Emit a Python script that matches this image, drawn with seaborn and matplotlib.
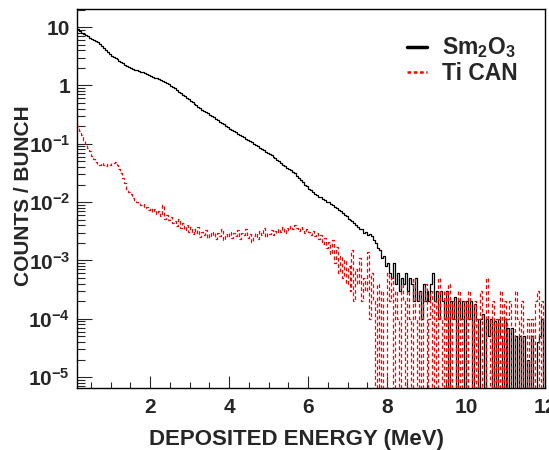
import matplotlib
matplotlib.use("Agg")
import matplotlib.pyplot as plt
import matplotlib.ticker as mticker
import numpy as np
import pandas as pd
import seaborn as sns
import warnings
warnings.filterwarnings("ignore")

# histogram binning (MeV)
bin_start = 0.10
bin_width = 0.05

# counts per bunch, one value per 0.05 MeV bin
sm2o3_counts = [
    10.5, 9.2, 8.4, 7.9, 7.5, 7.2, 6.9, 6.6, 6.3, 6.0,
    5.8, 5.5, 5.1, 4.7, 4.3, 4.0, 3.7, 3.45, 3.25, 3.1,
    2.95, 2.8, 2.65, 2.5, 2.38, 2.25, 2.15, 2.05, 1.98, 1.92,
    1.87, 1.82, 1.77, 1.72, 1.67, 1.62, 1.57, 1.52, 1.47, 1.42,
    1.36, 1.32, 1.28, 1.24, 1.19, 1.14, 1.09, 1.04, 0.99, 0.94,
    0.89, 0.84, 0.78, 0.73, 0.69, 0.65, 0.61, 0.575, 0.54, 0.51,
    0.48, 0.455, 0.43, 0.405, 0.385, 0.365, 0.345, 0.33, 0.315, 0.30,
    0.285, 0.27, 0.255, 0.24, 0.228, 0.215, 0.203, 0.192, 0.182, 0.172,
    0.164, 0.156, 0.148, 0.141, 0.134, 0.128, 0.122, 0.116, 0.110, 0.105,
    0.100, 0.095, 0.090, 0.086, 0.081, 0.077, 0.073, 0.070, 0.066, 0.063,
    0.060, 0.057, 0.053, 0.050, 0.047, 0.044, 0.041, 0.039, 0.037, 0.035,
    0.033, 0.031, 0.028, 0.026, 0.024, 0.022, 0.020, 0.019, 0.017, 0.016,
    0.0150, 0.0138, 0.0134, 0.0124, 0.0121, 0.0112, 0.0110, 0.0102, 0.0101, 0.0094,
    0.0090, 0.0083, 0.0080, 0.0072, 0.0069, 0.0064, 0.0059, 0.0057, 0.0051, 0.0049,
    0.0048, 0.0044, 0.0041, 0.0038, 0.0034, 0.0035, 0.0030, 0.0031, 0.0027, 0.0028,
    0.0026, 0.0022, 0.0020, 0.0016, 0.0015, 0.0011, 0.0012, 0.0008, 0.0009, 0.0006,
    0.0005, 0.0009, 0.0004, 0.0006, 0.0003, 0.0005, 0.0004, 0.0006, 0.0003, 0.0005,
    0.0004, 0.0002, 0.0005, 0.0002, 0.0003, 0.0001, 0.0004, 0.0002, 0.0003, 0.0002,
    0.0004, 0.0006, 0.0002, 0.0003, 0.0001, 0.0003, 0.0002, 0.0001, 0.0003, 0.0,
    0.0002, 0.0001, 0.00024, 0.0, 0.0002, 0.0001, 0.0002, 0.0, 0.0002, 0.0001,
    0.0002, 0.0, 0.00018, 0.0001, 0.0, 0.0001, 0.00012, 0.0, 0.0001, 0.00005,
    0.0001, 0.0, 0.00009, 0.0, 0.0001, 0.00005, 0.0, 0.0001, 0.0, 0.00007,
    0.0, 0.00007, 0.0, 0.00005, 0.0, 0.00005, 0.0, 0.00005, 0.0, 0.00002,
    0.0, 0.00005, 0.0, 0.0, 0.00004, 0.00005, 0.0001, 0.0,
]

ti_can_counts = [
    0.21, 0.20, 0.165, 0.14, 0.115, 0.098, 0.084, 0.074, 0.062, 0.055,
    0.049, 0.045, 0.043, 0.046, 0.044, 0.042, 0.045, 0.043, 0.046, 0.047,
    0.048, 0.044, 0.037, 0.032, 0.026, 0.021, 0.017, 0.015, 0.0135, 0.0118,
    0.0110, 0.0101, 0.0098, 0.0088, 0.0091, 0.0079, 0.0083, 0.0072, 0.0080, 0.0068,
    0.0075, 0.0062, 0.0071, 0.0058, 0.0088, 0.0052, 0.0061, 0.0049, 0.0056, 0.0044,
    0.0048, 0.0039, 0.0052, 0.0036, 0.0043, 0.0033, 0.0040, 0.0031, 0.0037, 0.0028,
    0.0034, 0.0029, 0.0038, 0.0025, 0.0031, 0.0027, 0.0033, 0.0024, 0.0030, 0.0026,
    0.0031, 0.0023, 0.0029, 0.0026, 0.0034, 0.0022, 0.0028, 0.0025, 0.0031, 0.0024,
    0.0029, 0.0026, 0.0033, 0.0023, 0.0030, 0.0027, 0.0035, 0.0024, 0.0028, 0.0021,
    0.0026, 0.0029, 0.0023, 0.0032, 0.0027, 0.0036, 0.0025, 0.0030, 0.0028, 0.0033,
    0.0027, 0.0032, 0.0029, 0.0035, 0.0031, 0.0038, 0.0030, 0.0036, 0.0033, 0.0039,
    0.0034, 0.0041, 0.0036, 0.0032, 0.0038, 0.0034, 0.0029, 0.0035, 0.0031, 0.0027,
    0.0032, 0.0026, 0.0030, 0.0023, 0.0027, 0.0019, 0.0024, 0.0016, 0.0021, 0.0013,
    0.0022, 0.0009, 0.0017, 0.0006, 0.0012, 0.0005, 0.0010, 0.0004, 0.0008, 0.0003,
    0.0015, 0.0002, 0.0007, 0.0004, 0.0011, 0.0002, 0.0005, 0.0003, 0.0014, 0.0001,
    0.0006, 0.0002, 0.0, 0.0004, 0.0, 0.0003, 0.0, 0.0, 0.0006, 0.0002,
    0.0005, 0.0, 0.0003, 0.0001, 0.0, 0.0004, 0.0002, 0.0, 0.0003, 0.0001,
    0.0, 0.0005, 0.0001, 0.0, 0.0003, 0.0, 0.0002, 0.0004, 0.0, 0.0001,
    0.0003, 0.0, 0.0002, 0.0, 0.0005, 0.0001, 0.0, 0.0003, 0.0, 0.0004,
    0.0, 0.0002, 0.0001, 0.0, 0.0003, 0.0, 0.0001, 0.0002, 0.0, 0.0003,
    0.0001, 0.0, 0.0002, 0.0, 0.0001, 0.0003, 0.0, 0.0, 0.0005, 0.0001,
    0.0, 0.0002, 0.0, 0.0001, 0.0, 0.0003, 0.0, 0.0002, 0.0, 0.0001,
    0.0002, 0.0, 0.0, 0.0003, 0.0001, 0.0, 0.0002, 0.0, 0.0, 0.0001,
    0.0, 0.0001, 0.0, 0.0002, 0.0003, 0.0, 0.0002, 0.0,
]

x_ticks = [2, 4, 6, 8, 10, 12]
y_ticks = [1e-5, 1e-4, 1e-3, 1e-2, 1e-1, 1, 10]

centers = bin_start + bin_width * (np.arange(len(sm2o3_counts)) + 0.5)
df = pd.DataFrame({"energy": centers,
                   "sm2o3": sm2o3_counts,
                   "tican": ti_can_counts})

sns.set_style("ticks")
plt.rcParams["font.family"] = ["Liberation Sans", "DejaVu Sans"]
plt.rcParams["font.weight"] = "bold"
plt.rcParams["mathtext.fontset"] = "custom"
plt.rcParams["mathtext.rm"] = "Liberation Sans:bold"
plt.rcParams["mathtext.bf"] = "Liberation Sans:bold"
plt.rcParams["mathtext.default"] = "bf"

fig = plt.figure(figsize=(5.49, 4.5), dpi=100)
ax = fig.add_axes([0.1403, 0.1378, 0.8524, 0.8422])

sns.lineplot(x="energy", y="sm2o3", data=df, ax=ax, color="black",
             linewidth=0.9, drawstyle="steps-mid", estimator=None,
             sort=False, label="Sm$_2$O$_3$")
sns.lineplot(x="energy", y="tican", data=df, ax=ax, color="#ff0000",
             linewidth=0.9, drawstyle="steps-mid", estimator=None,
             sort=False, dashes=(3, 2), label="Ti CAN")

# log scale set after plotting so empty bins drop to the frame bottom
ax.set_yscale("log")
ax.set_xlim(0.15, 12)
ax.set_ylim(6.5e-6, 20.4)


def decade_label(v, pos):
    e = int(round(np.log10(v)))
    if e == 1:
        return "10"
    if e == 0:
        return "1"
    return r"$10^{%d}$" % e


ax.set_yticks(y_ticks)
ax.yaxis.set_major_formatter(mticker.FuncFormatter(decade_label))
ax.yaxis.set_minor_locator(mticker.LogLocator(base=10, subs=np.arange(2, 10)))
ax.yaxis.set_minor_formatter(mticker.NullFormatter())
ax.set_xticks(x_ticks)
ax.xaxis.set_minor_locator(mticker.MultipleLocator(0.5))

ax.tick_params(axis="y", which="major", direction="in", length=10.8, width=0.8,
               labelsize=15, pad=5, right=False)
ax.tick_params(axis="y", which="minor", direction="in", length=5.5, width=0.8,
               right=False)
ax.tick_params(axis="x", which="major", direction="in", length=8.6, width=0.8,
               labelsize=15, pad=7, top=False)
ax.tick_params(axis="x", which="minor", direction="in", length=4.3, width=0.8,
               top=False)
for s in ax.spines.values():
    s.set_visible(True)
    s.set_color("black")
    s.set_linewidth(1.0)

ax.set_xlabel("DEPOSITED ENERGY (MeV)", fontsize=16, fontweight="bold")
ax.set_ylabel("COUNTS / BUNCH", fontsize=15, fontweight="bold")
ax.xaxis.set_label_coords(0.47, -0.108)
ax.yaxis.set_label_coords(-0.095, 0.507)

leg = ax.legend(loc="upper left", bbox_to_anchor=(0.705, 0.93), frameon=False,
                fontsize=16.5, handlelength=0.87, handletextpad=0.65,
                labelspacing=0.05, borderpad=0, borderaxespad=0)
leg_lines = leg.get_lines()
leg_lines[0].set_linewidth(2.5)
leg_lines[1].set_linewidth(1.8)
leg_lines[1].set_dashes((1.5, 1))

fig.savefig("out.png", dpi=100)
